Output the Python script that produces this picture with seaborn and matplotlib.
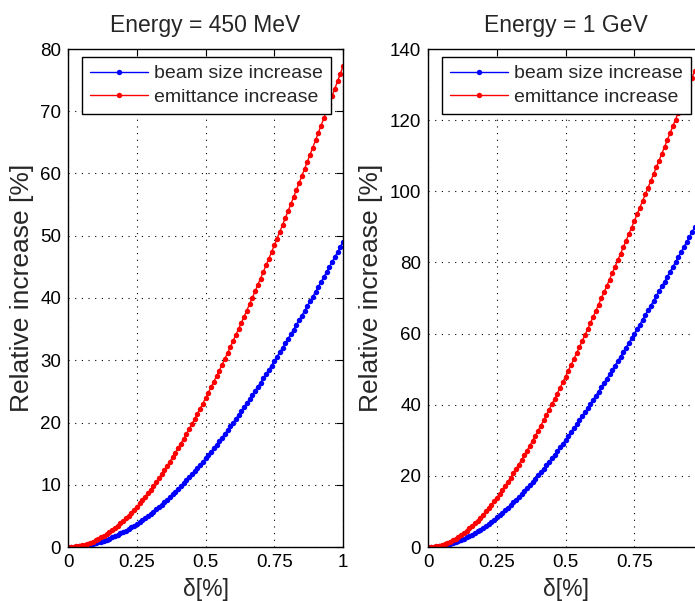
import matplotlib
matplotlib.use("Agg")
import matplotlib.pyplot as plt
import seaborn as sns
import pandas as pd

delta = [0.00, 0.01, 0.02, 0.03, 0.04, 0.05, 0.06, 0.07, 0.08, 0.09,
         0.10, 0.11, 0.12, 0.13, 0.14, 0.15, 0.16, 0.17, 0.18, 0.19,
         0.20, 0.21, 0.22, 0.23, 0.24, 0.25, 0.26, 0.27, 0.28, 0.29,
         0.30, 0.31, 0.32, 0.33, 0.34, 0.35, 0.36, 0.37, 0.38, 0.39,
         0.40, 0.41, 0.42, 0.43, 0.44, 0.45, 0.46, 0.47, 0.48, 0.49,
         0.50, 0.51, 0.52, 0.53, 0.54, 0.55, 0.56, 0.57, 0.58, 0.59,
         0.60, 0.61, 0.62, 0.63, 0.64, 0.65, 0.66, 0.67, 0.68, 0.69,
         0.70, 0.71, 0.72, 0.73, 0.74, 0.75, 0.76, 0.77, 0.78, 0.79,
         0.80, 0.81, 0.82, 0.83, 0.84, 0.85, 0.86, 0.87, 0.88, 0.89,
         0.90, 0.91, 0.92, 0.93, 0.94, 0.95, 0.96, 0.97, 0.98, 0.99,
         1.00]

beam_450 = [0.00, 0.01, 0.02, 0.05, 0.10, 0.15, 0.22, 0.30, 0.39, 0.49,
            0.61, 0.74, 0.87, 1.03, 1.19, 1.36, 1.55, 1.75, 1.96, 2.18,
            2.41, 2.65, 2.91, 3.18, 3.45, 3.74, 4.04, 4.35, 4.67, 5.00,
            5.35, 5.70, 6.06, 6.44, 6.82, 7.21, 7.62, 8.03, 8.45, 8.88,
            9.33, 9.78, 10.24, 10.71, 11.18, 11.67, 12.17, 12.67, 13.19, 13.71,
            14.24, 14.77, 15.32, 15.87, 16.44, 17.01, 17.58, 18.17, 18.76, 19.36,
            19.97, 20.58, 21.20, 21.83, 22.46, 23.10, 23.75, 24.40, 25.07, 25.73,
            26.40, 27.08, 27.77, 28.46, 29.15, 29.86, 30.56, 31.28, 31.99, 32.72,
            33.45, 34.18, 34.92, 35.66, 36.41, 37.17, 37.92, 38.69, 39.45, 40.23,
            41.00, 41.78, 42.57, 43.36, 44.15, 44.95, 45.75, 46.56, 47.37, 48.18,
            49.00]

emit_450 = [0.00, 0.01, 0.04, 0.10, 0.17, 0.27, 0.38, 0.52, 0.68, 0.86,
            1.06, 1.29, 1.53, 1.79, 2.08, 2.38, 2.70, 3.05, 3.41, 3.79,
            4.19, 4.61, 5.05, 5.51, 5.98, 6.48, 6.99, 7.52, 8.06, 8.63,
            9.21, 9.80, 10.41, 11.04, 11.69, 12.35, 13.02, 13.71, 14.41, 15.13,
            15.86, 16.61, 17.37, 18.14, 18.92, 19.72, 20.53, 21.36, 22.19, 23.04,
            23.90, 24.76, 25.64, 26.54, 27.44, 28.35, 29.27, 30.20, 31.14, 32.10,
            33.06, 34.03, 35.00, 35.99, 36.99, 37.99, 39.00, 40.02, 41.05, 42.09,
            43.13, 44.18, 45.24, 46.30, 47.37, 48.45, 49.53, 50.63, 51.72, 52.83,
            53.94, 55.05, 56.17, 57.30, 58.43, 59.57, 60.71, 61.86, 63.01, 64.17,
            65.33, 66.50, 67.67, 68.85, 70.03, 71.21, 72.40, 73.60, 74.79, 75.99,
            77.20]

beam_1g = [0.00, 0.01, 0.06, 0.12, 0.22, 0.35, 0.50, 0.68, 0.88, 1.12,
           1.38, 1.66, 1.97, 2.31, 2.68, 3.07, 3.48, 3.93, 4.39, 4.88,
           5.39, 5.93, 6.49, 7.08, 7.68, 8.31, 8.96, 9.63, 10.33, 11.04,
           11.77, 12.53, 13.30, 14.09, 14.90, 15.73, 16.58, 17.44, 18.32, 19.22,
           20.13, 21.06, 22.01, 22.97, 23.95, 24.94, 25.94, 26.96, 27.99, 29.04,
           30.10, 31.17, 32.25, 33.35, 34.45, 35.57, 36.70, 37.84, 38.99, 40.15,
           41.32, 42.50, 43.69, 44.89, 46.10, 47.32, 48.55, 49.78, 51.02, 52.28,
           53.54, 54.80, 56.08, 57.36, 58.65, 59.94, 61.24, 62.55, 63.87, 65.19,
           66.52, 67.85, 69.19, 70.54, 71.89, 73.24, 74.61, 75.97, 77.34, 78.72,
           80.10, 81.49, 82.88, 84.28, 85.68, 87.08, 88.49, 89.90, 91.32, 92.74,
           94.16]

emit_1g = [0.00, 0.02, 0.09, 0.21, 0.38, 0.59, 0.85, 1.16, 1.51, 1.91,
           2.35, 2.83, 3.36, 3.94, 4.55, 5.21, 5.91, 6.64, 7.42, 8.23,
           9.09, 9.98, 10.90, 11.86, 12.85, 13.88, 14.94, 16.03, 17.15, 18.30,
           19.48, 20.68, 21.92, 23.18, 24.46, 25.77, 27.11, 28.46, 29.84, 31.24,
           32.67, 34.11, 35.57, 37.05, 38.55, 40.07, 41.60, 43.15, 44.72, 46.30,
           47.90, 49.52, 51.14, 52.78, 54.44, 56.10, 57.78, 59.48, 61.18, 62.89,
           64.62, 66.36, 68.10, 69.86, 71.63, 73.40, 75.19, 76.98, 78.78, 80.60,
           82.41, 84.24, 86.08, 87.92, 89.77, 91.62, 93.48, 95.35, 97.23, 99.11,
           101.00, 102.89, 104.79, 106.69, 108.60, 110.52, 112.44, 114.37, 116.30, 118.23,
           120.17, 122.11, 124.06, 126.01, 127.97, 129.93, 131.90, 133.86, 135.84, 137.81,
           139.79]

titles = ["Energy = 450 MeV", "Energy = 1 GeV"]
series_names = ["beam size increase", "emittance increase"]
x_ticks = [0, 0.25, 0.5, 0.75, 1]
x_tick_labels = ["0", "0.25", "0.5", "0.75", "1"]
y_limits = [80, 140]
y_steps = [10, 20]
xlabel = "δ[%]"
ylabel = "Relative increase [%]"

sns.set_theme(style="white")
plt.rcParams["font.family"] = ["Liberation Sans", "DejaVu Sans"]

fig = plt.figure(figsize=(6.95, 6.01), dpi=100)
ax_w = 275 / 695
ax_h = 498 / 601
ax_b = 54 / 601
axes = [fig.add_axes([68 / 695, ax_b, ax_w, ax_h]),
        fig.add_axes([428 / 695, ax_b, ax_w, ax_h])]

data_sets = [(beam_450, emit_450), (beam_1g, emit_1g)]
colors = ["#0000ff", "#ff0000"]
label_x = [-0.125, -0.163]

for i, ax in enumerate(axes):
    beam, emit = data_sets[i]
    df = pd.DataFrame({
        "delta": delta * 2,
        "value": beam + emit,
        "series": [series_names[0]] * len(delta) + [series_names[1]] * len(delta),
    })
    sns.lineplot(data=df, x="delta", y="value", hue="series",
                 palette=dict(zip(series_names, colors)),
                 marker="o", markersize=3.9, markeredgewidth=0,
                 linewidth=1.0, ax=ax, legend=True, sort=False)
    ax.set_xlim(0, 1)
    ax.set_ylim(0, y_limits[i])
    ax.set_xticks(x_ticks)
    ax.set_xticklabels(x_tick_labels)
    ax.set_yticks(list(range(0, y_limits[i] + 1, y_steps[i])))
    ax.tick_params(direction="in", top=True, right=True, length=5, width=0.8,
                   labelsize=13.5, colors="black", pad=5)
    ax.grid(True, linestyle=(0, (1, 5)), color="black", linewidth=0.8)
    for sp in ax.spines.values():
        sp.set_color("black")
        sp.set_linewidth(1.0)
    ax.set_title(titles[i], fontsize=16.5, pad=12)
    ax.set_xlabel(xlabel, fontsize=16.5, labelpad=5)
    ax.set_ylabel(ylabel, fontsize=19)
    ax.yaxis.set_label_coords(label_x[i], 0.52)
    leg = ax.legend(loc="upper left", bbox_to_anchor=(14 / 275, 1 - 8 / 498),
                    borderaxespad=0, fontsize=14, frameon=True, fancybox=False,
                    handlelength=3.0, borderpad=0.4,
                    labelspacing=0.3, handletextpad=0.3)
    leg.get_frame().set_edgecolor("black")
    leg.get_frame().set_linewidth(1.0)
    leg.get_frame().set_alpha(1)

fig.savefig("out.png", dpi=100, facecolor="white")
